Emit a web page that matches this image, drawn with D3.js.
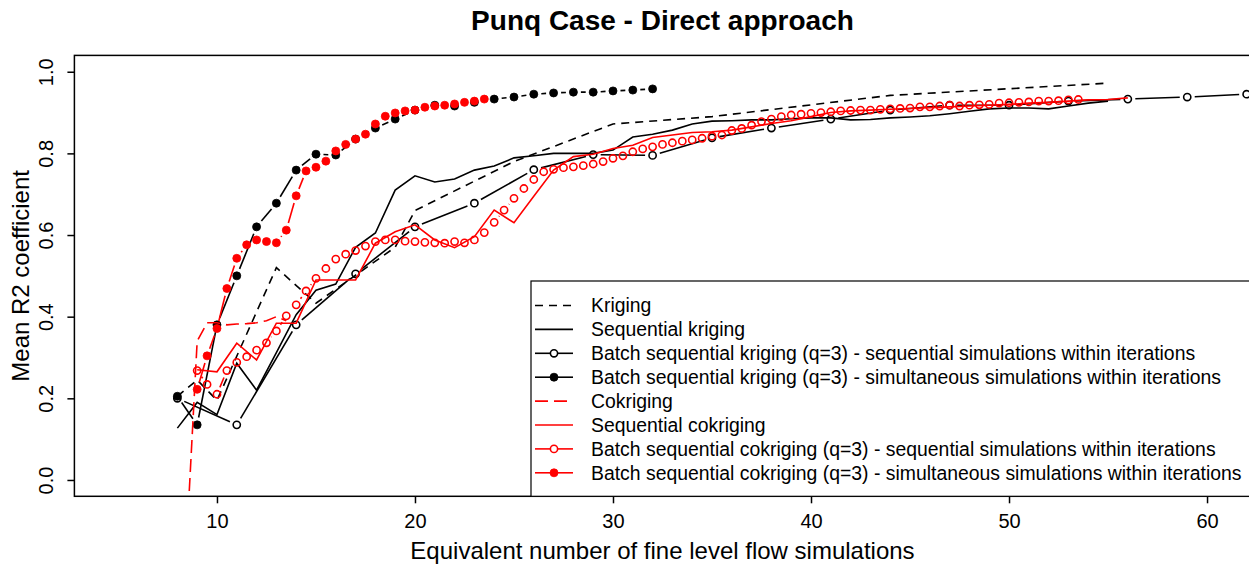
<!DOCTYPE html>
<html>
<head>
<meta charset="utf-8">
<script src="https://cdn.jsdelivr.net/npm/d3@7"></script>
<style>
  body { margin: 0; background: #fff; }
  text { font-family: "Liberation Sans", Arial, sans-serif; }
</style>
</head>
<body>
<div id="chart"></div>
<script>
// Kriging (dashed black)
const krigingX = [8, 9, 10, 13, 15, 19, 20, 25, 30, 35, 44, 55];
const krigingY = [0.205, 0.245, 0.195, 0.52, 0.433, 0.57, 0.66, 0.78, 0.872, 0.89, 0.942, 0.972];

// Sequential kriging (solid black), one value per budget 8..55
const seqKrigingX = d3.range(8, 56);
const seqKrigingY = [0.127, 0.19, 0.16, 0.286, 0.22, 0.312, 0.405, 0.465, 0.48, 0.57,
  0.605, 0.71, 0.745, 0.73, 0.737, 0.759, 0.769, 0.789, 0.794, 0.80,
  0.80, 0.80, 0.808, 0.84, 0.847, 0.857, 0.872, 0.879, 0.88, 0.882,
  0.882, 0.885, 0.887, 0.887, 0.882, 0.883, 0.887, 0.889, 0.892, 0.897,
  0.903, 0.909, 0.911, 0.911, 0.909, 0.916, 0.923, 0.928];

// Batch sequential kriging (q=3) - sequential simulations
const batchKrigSeqX = [8, 11, 14, 17, 20, 23, 26, 29, 32, 35, 38, 41, 44, 47, 50, 53, 56, 59, 62];
const batchKrigSeqY = [0.20, 0.135, 0.38, 0.505, 0.62, 0.678, 0.76, 0.797, 0.795, 0.838,
  0.862, 0.884, 0.906, 0.918, 0.918, 0.928, 0.933, 0.938, 0.945];

// Batch sequential kriging (q=3) - simultaneous simulations
const batchKrigSimX = d3.range(8, 33);
const batchKrigSimY = [0.205, 0.135, 0.38, 0.50, 0.62, 0.678, 0.759, 0.798, 0.796, 0.835,
  0.862, 0.884, 0.906, 0.918, 0.916, 0.925, 0.933, 0.938, 0.945, 0.948,
  0.950, 0.950, 0.953, 0.955, 0.958];

// Cokriging (red long dash)
const cokrigingX = [8.5, 9, 9.5, 10, 10.5, 11, 11.5, 12, 12.5, 13, 13.5];
const cokrigingY = [-0.12, 0.34, 0.385, 0.385, 0.38, 0.382, 0.383, 0.385, 0.39, 0.40, 0.39];

// Sequential cokriging (solid red), budgets 9..56
const seqCokrigingX = d3.range(9, 57);
const seqCokrigingY = [0.27, 0.265, 0.335, 0.294, 0.384, 0.384, 0.49, 0.49, 0.49, 0.58,
  0.608, 0.625, 0.588, 0.569, 0.596, 0.661, 0.63, 0.695, 0.759, 0.792,
  0.798, 0.812, 0.82, 0.839, 0.845, 0.851, 0.853, 0.857, 0.865, 0.873,
  0.88, 0.89, 0.90, 0.904, 0.906, 0.908, 0.91, 0.912, 0.914, 0.916,
  0.918, 0.92, 0.923, 0.925, 0.928, 0.931, 0.932, 0.936];

// Batch sequential cokriging (q=3) - sequential simulations, budgets 9..53.5 by 0.5
const batchCokSeqX = d3.range(9, 54, 0.5);
const batchCokSeqY = [0.268, 0.234, 0.21, 0.268, 0.288, 0.302, 0.318, 0.336, 0.365, 0.402,
  0.429, 0.463, 0.494, 0.518, 0.541, 0.553, 0.562, 0.573, 0.584, 0.588,
  0.588, 0.585, 0.584, 0.582, 0.581, 0.58, 0.584, 0.581, 0.588, 0.606,
  0.631, 0.661, 0.69, 0.714, 0.736, 0.755, 0.761, 0.765, 0.767, 0.77,
  0.774, 0.78, 0.788, 0.794, 0.804, 0.811, 0.816, 0.822, 0.826, 0.83,
  0.833, 0.837, 0.842, 0.845, 0.856, 0.861, 0.869, 0.878, 0.884, 0.89,
  0.894, 0.896, 0.898, 0.90, 0.902, 0.904, 0.905, 0.906, 0.906, 0.908,
  0.909, 0.91, 0.911, 0.914, 0.914, 0.916, 0.918, 0.916, 0.918, 0.919,
  0.92, 0.923, 0.924, 0.925, 0.926, 0.928, 0.928, 0.929, 0.931, 0.932];

// Batch sequential cokriging (q=3) - simultaneous simulations, budgets 9..23.5 by 0.5
const batchCokSimX = d3.range(9, 24, 0.5);
const batchCokSimY = [0.222, 0.304, 0.371, 0.469, 0.543, 0.576, 0.588, 0.584, 0.581, 0.612,
  0.696, 0.757, 0.766, 0.781, 0.806, 0.822, 0.835, 0.847, 0.872, 0.891,
  0.899, 0.904, 0.906, 0.913, 0.916, 0.918, 0.921, 0.925, 0.928, 0.933];

const xTicks = [10, 20, 30, 40, 50, 60];
const yTicks = [0, 0.2, 0.4, 0.6, 0.8, 1.0];

const width = 1249, height = 567;
const margin = { left: 74.4, top: 55.4, right: 1250.6, bottom: 496.3 };

const svg = d3.select("#chart").append("svg")
  .attr("width", width).attr("height", height);

const x = d3.scaleLinear().domain([2.8, 62.2]).range([margin.left, margin.right]);
const y = d3.scaleLinear().domain([-0.04, 1.04]).range([margin.bottom, margin.top]);

svg.append("defs").append("clipPath").attr("id", "plotclip")
  .append("rect")
  .attr("x", margin.left).attr("y", margin.top)
  .attr("width", margin.right - margin.left).attr("height", margin.bottom - margin.top);

const series = [
  { name: "Kriging", xs: krigingX, ys: krigingY, color: "#000", dash: "8,6", type: "l" },
  { name: "Sequential kriging", xs: seqKrigingX, ys: seqKrigingY, color: "#000", dash: null, type: "l" },
  { name: "Batch sequential kriging (q=3) - sequential simulations within iterations", xs: batchKrigSeqX, ys: batchKrigSeqY, color: "#000", dash: null, type: "b", pch: "open" },
  { name: "Batch sequential kriging (q=3) - simultaneous simulations within iterations", xs: batchKrigSimX, ys: batchKrigSimY, color: "#000", dash: null, type: "b", pch: "filled" },
  { name: "Cokriging", xs: cokrigingX, ys: cokrigingY, color: "#ff0000", dash: "13,6", type: "l" },
  { name: "Sequential cokriging", xs: seqCokrigingX, ys: seqCokrigingY, color: "#ff0000", dash: null, type: "l" },
  { name: "Batch sequential cokriging (q=3) - sequential simulations within iterations", xs: batchCokSeqX, ys: batchCokSeqY, color: "#ff0000", dash: null, type: "b", pch: "open" },
  { name: "Batch sequential cokriging (q=3) - simultaneous simulations within iterations", xs: batchCokSimX, ys: batchCokSimY, color: "#ff0000", dash: null, type: "b", pch: "filled" }
];

const lw = 1.6;
const gap = 7.5;
const rOpen = 3.6, rFilled = 4.0;
const plot = svg.append("g").attr("clip-path", "url(#plotclip)");
const line = d3.line().x(d => x(d[0])).y(d => y(d[1]));

series.forEach(s => {
  const pts = s.xs.map((v, i) => [v, s.ys[i]]);
  if (s.type === "l") {
    plot.append("path")
      .attr("d", line(pts))
      .attr("fill", "none")
      .attr("stroke", s.color)
      .attr("stroke-width", lw)
      .attr("stroke-dasharray", s.dash);
  } else {
    // R type="b": segments with a gap around each point
    for (let i = 1; i < pts.length; i++) {
      const x0 = x(pts[i - 1][0]), y0 = y(pts[i - 1][1]);
      const x1 = x(pts[i][0]), y1 = y(pts[i][1]);
      const d = Math.hypot(x1 - x0, y1 - y0);
      if (d <= 2 * gap) continue;
      const f = gap / d;
      plot.append("line")
        .attr("x1", x0 + f * (x1 - x0)).attr("y1", y0 + f * (y1 - y0))
        .attr("x2", x1 - f * (x1 - x0)).attr("y2", y1 - f * (y1 - y0))
        .attr("stroke", s.color).attr("stroke-width", lw);
    }
    plot.selectAll(null).data(pts).join("circle")
      .attr("cx", d => x(d[0])).attr("cy", d => y(d[1]))
      .attr("r", s.pch === "filled" ? rFilled : rOpen)
      .attr("fill", s.pch === "filled" ? s.color : "none")
      .attr("stroke", s.color)
      .attr("stroke-width", s.pch === "filled" ? 0.8 : 1.6);
  }
});

// box
svg.append("rect")
  .attr("x", margin.left).attr("y", margin.top)
  .attr("width", margin.right - margin.left).attr("height", margin.bottom - margin.top)
  .attr("fill", "none").attr("stroke", "#000").attr("stroke-width", 1.5);

// axes
const xAxis = svg.append("g")
  .attr("transform", `translate(0,${margin.bottom})`)
  .call(d3.axisBottom(x).tickValues(xTicks).tickSize(7).tickPadding(10.5).tickSizeOuter(0));
xAxis.select(".domain").remove();
xAxis.selectAll("line").attr("stroke-width", 1.5);
xAxis.selectAll("text").attr("font-size", 20).attr("font-family", "Liberation Sans, Arial, sans-serif");

const yAxis = svg.append("g")
  .attr("transform", `translate(${margin.left},0)`)
  .call(d3.axisLeft(y).tickValues(yTicks).tickFormat(d3.format(".1f")).tickSize(7).tickSizeOuter(0));
yAxis.select(".domain").remove();
yAxis.selectAll("line").attr("stroke-width", 1.5);
yAxis.selectAll("text")
  .attr("font-size", 20).attr("font-family", "Liberation Sans, Arial, sans-serif")
  .attr("transform", "rotate(-90)")
  .attr("x", 0).attr("y", -21.1).attr("dy", 0)
  .attr("text-anchor", "middle");

// titles
svg.append("text")
  .attr("x", (margin.left + margin.right) / 2).attr("y", 30)
  .attr("text-anchor", "middle").attr("font-size", 28).attr("font-weight", "bold")
  .text("Punq Case - Direct approach");

svg.append("text")
  .attr("x", (margin.left + margin.right) / 2).attr("y", 559)
  .attr("text-anchor", "middle").attr("font-size", 24)
  .text("Equivalent number of fine level flow simulations");

svg.append("text")
  .attr("transform", `translate(29,${(margin.top + margin.bottom) / 2}) rotate(-90)`)
  .attr("text-anchor", "middle").attr("font-size", 24)
  .text("Mean R2 coefficient");

// legend
const legend = svg.append("g");
legend.append("rect")
  .attr("x", 531).attr("y", 281)
  .attr("width", margin.right - 531).attr("height", margin.bottom - 281)
  .attr("fill", "#fff").attr("stroke", "#000").attr("stroke-width", 1.2);

series.forEach((s, i) => {
  const cy = 305.5 + i * 23.9;
  const g = legend.append("g");
  if (s.type === "b") {
    const r = s.pch === "filled" ? 0 : rOpen;
    g.append("line").attr("x1", 535).attr("x2", 554 - r).attr("y1", cy).attr("y2", cy)
      .attr("stroke", s.color).attr("stroke-width", lw);
    g.append("line").attr("x1", 554 + r).attr("x2", 573).attr("y1", cy).attr("y2", cy)
      .attr("stroke", s.color).attr("stroke-width", lw);
    g.append("circle").attr("cx", 554).attr("cy", cy)
      .attr("r", s.pch === "filled" ? rFilled : rOpen)
      .attr("fill", s.pch === "filled" ? s.color : "none")
      .attr("stroke", s.color).attr("stroke-width", s.pch === "filled" ? 0.8 : 1.6);
  } else {
    g.append("line").attr("x1", 535).attr("x2", 573).attr("y1", cy).attr("y2", cy)
      .attr("stroke", s.color).attr("stroke-width", lw)
      .attr("stroke-dasharray", s.dash);
  }
  g.append("text").attr("x", 591).attr("y", cy + 6.8)
    .attr("font-size", 19.4).text(s.name);
});
</script>
</body>
</html>
